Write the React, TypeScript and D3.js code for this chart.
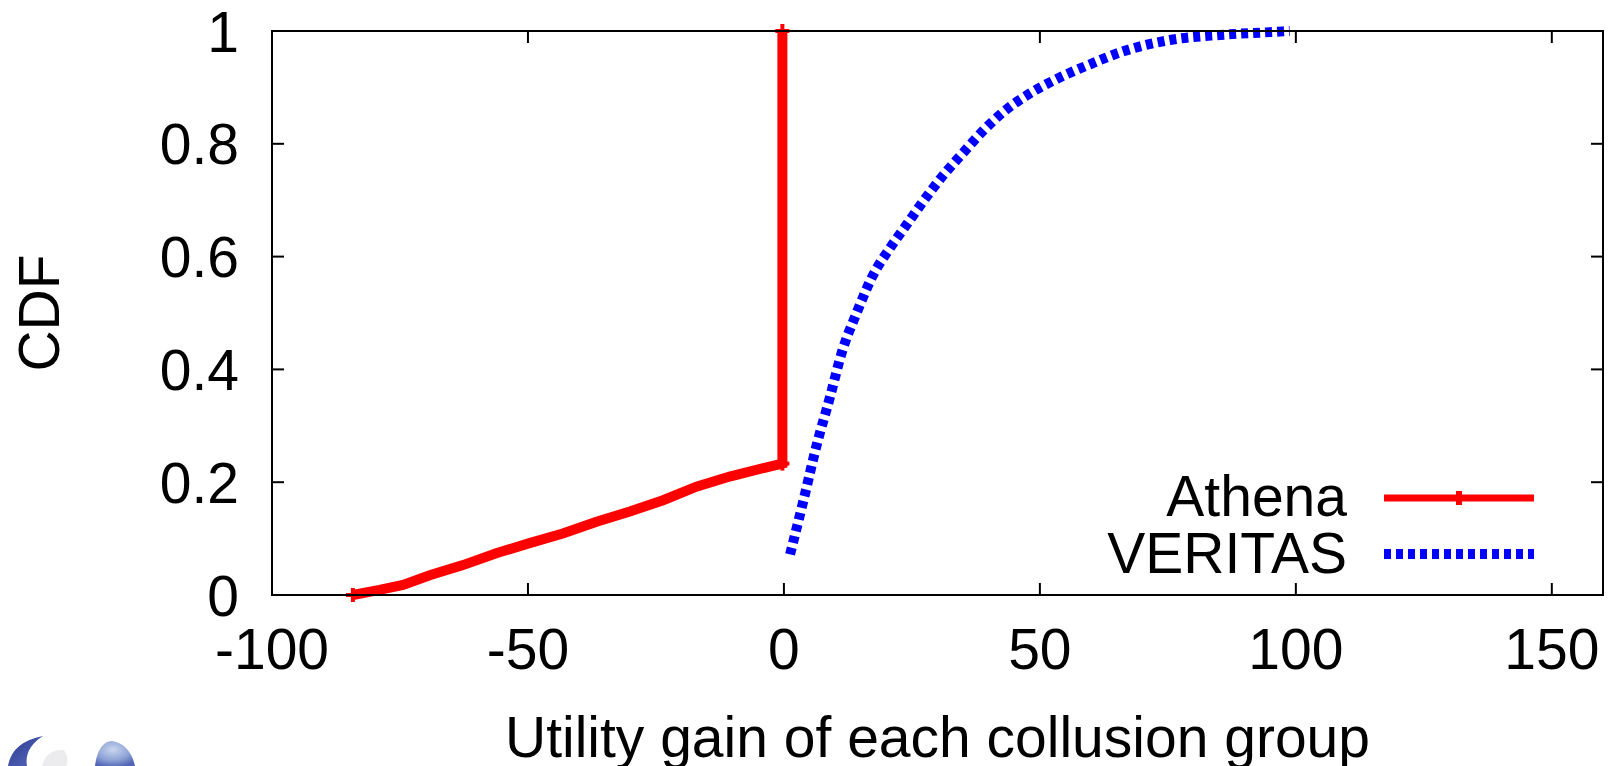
import React from 'react';
import * as d3 from 'd3';

// Cumulative distribution of utility gain per collusion group
const athenaGain = [-84.2, -79.0, -74.4, -69.2, -62.7, -56.2, -49.7, -43.2, -36.6, -30.1, -23.6, -17.1, -10.6, -4.0, -0.3, -0.3];
const athenaCdf = [0.0, 0.009, 0.018, 0.035, 0.053, 0.074, 0.092, 0.109, 0.130, 0.148, 0.168, 0.192, 0.210, 0.225, 0.233, 1.0];

const veritasGain = [1.2, 3.8, 6.4, 9.0, 11.3, 14.2, 17.4, 20.7, 24.0, 27.2, 31.1, 35.0, 38.9, 42.8, 48.0, 53.3, 59.8, 66.3, 75.4, 85.2, 94.9, 98.8];
const veritasCdf = [0.072, 0.167, 0.266, 0.351, 0.43, 0.50, 0.567, 0.615, 0.657, 0.698, 0.744, 0.784, 0.823, 0.856, 0.889, 0.915, 0.941, 0.964, 0.984, 0.993, 0.998, 1.0];

const xTicks = [-100, -50, 0, 50, 100, 150];
const yTicks = [0, 0.2, 0.4, 0.6, 0.8, 1];
const seriesNames = ['Athena', 'VERITAS'];

const W = 1614;
const H = 766;
const FONT = '"Liberation Sans", Arial, Helvetica, sans-serif';
const FS = 57;
const TICK = 12;

export default function App() {
  const x = d3.scaleLinear().domain([-100, 160]).range([272, 1603]);
  const y = d3.scaleLinear().domain([0, 1]).range([595, 31]);
  const [x0, x1] = x.range();
  const [y0, y1] = y.range();

  const athena = athenaGain.map((g, i) => [g, athenaCdf[i]] as [number, number]);
  const veritas = veritasGain.map((g, i) => [g, veritasCdf[i]] as [number, number]);

  const redLine = d3.line<[number, number]>().x(d => x(d[0])).y(d => y(d[1]))(athena) || '';
  const blueLine = d3
    .line<[number, number]>()
    .x(d => x(d[0]))
    .y(d => y(d[1]))
    .curve(d3.curveMonotoneX)(veritas) || '';

  // point markers show only where the line ends or turns sharply
  const markerIdx = [0, athena.length - 2, athena.length - 1];

  const legendX0 = 1384;
  const legendX1 = 1534;
  const legendRows = [498, 554];

  return (
    <svg
      width={W}
      height={H}
      viewBox={`0 0 ${W} ${H}`}
      style={{ position: 'absolute', left: 0, top: 0, background: '#fff' }}
    >
      <defs>
        <radialGradient id="dome" cx="0.45" cy="0.35" r="0.7">
          <stop offset="0" stopColor="#c9d6ee" />
          <stop offset="0.6" stopColor="#8ea3d6" />
          <stop offset="1" stopColor="#5166b4" />
        </radialGradient>
        <linearGradient id="crescent" x1="0" y1="0" x2="1" y2="1">
          <stop offset="0" stopColor="#2b3a8f" />
          <stop offset="1" stopColor="#5a6cc0" />
        </linearGradient>
      </defs>

      {/* decorative emblem at the lower-left corner */}
      <g>
        <path d="M 8 766 Q 12 742 43 736 Q 24 748 27 766 Z" fill="url(#crescent)" />
        <path d="M 42 766 Q 46 749 64 750 Q 70 758 66 766 Z" fill="#ececee" />
        <path d="M 95 766 Q 98 742 112 741 Q 130 744 135 766 Z" fill="url(#dome)" />
      </g>

      {/* ticks (inward, mirrored on all sides) */}
      <g stroke="#000" strokeWidth={2}>
        {xTicks.map(t => (
          <g key={`xt${t}`}>
            <line x1={x(t)} x2={x(t)} y1={y0} y2={y0 - TICK} />
            <line x1={x(t)} x2={x(t)} y1={y1} y2={y1 + TICK} />
          </g>
        ))}
        {yTicks.map(t => (
          <g key={`yt${t}`}>
            <line x1={x0} x2={x0 + TICK} y1={y(t)} y2={y(t)} />
            <line x1={x1} x2={x1 - TICK} y1={y(t)} y2={y(t)} />
          </g>
        ))}
      </g>

      {/* tick labels */}
      <g fontFamily={FONT} fontSize={FS} fill="#000">
        {xTicks.map(t => (
          <text key={`xl${t}`} x={x(t)} y={669} textAnchor="middle">
            {String(t)}
          </text>
        ))}
        {yTicks.map(t => (
          <text key={`yl${t}`} x={239} y={y(t) + 20.5} textAnchor="end">
            {String(t)}
          </text>
        ))}
      </g>

      {/* axis titles */}
      <text x={(x0 + x1) / 2} y={757} textAnchor="middle" fontFamily={FONT} fontSize={FS}>
        Utility gain of each collusion group
      </text>
      <text
        transform={`translate(59, ${(y0 + y1) / 2}) rotate(-90)`}
        textAnchor="middle"
        fontFamily={FONT}
        fontSize={FS}
      >
        CDF
      </text>

      {/* series */}
      <path d={redLine} fill="none" stroke="#ff0000" strokeWidth={10} strokeLinejoin="miter" />
      <g stroke="#ff0000" strokeWidth={4}>
        {markerIdx.map(i => {
          const d = athena[i];
          return (
            <g key={`pt${i}`}>
              <line x1={x(d[0]) - 7} x2={x(d[0]) + 7} y1={y(d[1])} y2={y(d[1])} />
              <line x1={x(d[0])} x2={x(d[0])} y1={y(d[1]) - 7} y2={y(d[1]) + 7} />
            </g>
          );
        })}
      </g>
      <path d={blueLine} fill="none" stroke="#0000ff" strokeWidth={10} strokeDasharray="7 5" />

      {/* frame */}
      <rect x={x0} y={y1} width={x1 - x0} height={y0 - y1} fill="none" stroke="#000" strokeWidth={2} />

      {/* legend */}
      <g fontFamily={FONT} fontSize={FS}>
        {seriesNames.map((name, i) => (
          <text key={name} x={1347} y={legendRows[i] + (i === 0 ? 18 : 19)} textAnchor="end">
            {name}
          </text>
        ))}
        <line x1={legendX0} x2={legendX1} y1={legendRows[0]} y2={legendRows[0]} stroke="#ff0000" strokeWidth={7} />
        <line
          x1={(legendX0 + legendX1) / 2}
          x2={(legendX0 + legendX1) / 2}
          y1={legendRows[0] - 7}
          y2={legendRows[0] + 7}
          stroke="#ff0000"
          strokeWidth={6}
        />
        <line
          x1={legendX0}
          x2={legendX1}
          y1={legendRows[1]}
          y2={legendRows[1]}
          stroke="#0000ff"
          strokeWidth={10}
          strokeDasharray="7 5"
        />
      </g>
    </svg>
  );
}
